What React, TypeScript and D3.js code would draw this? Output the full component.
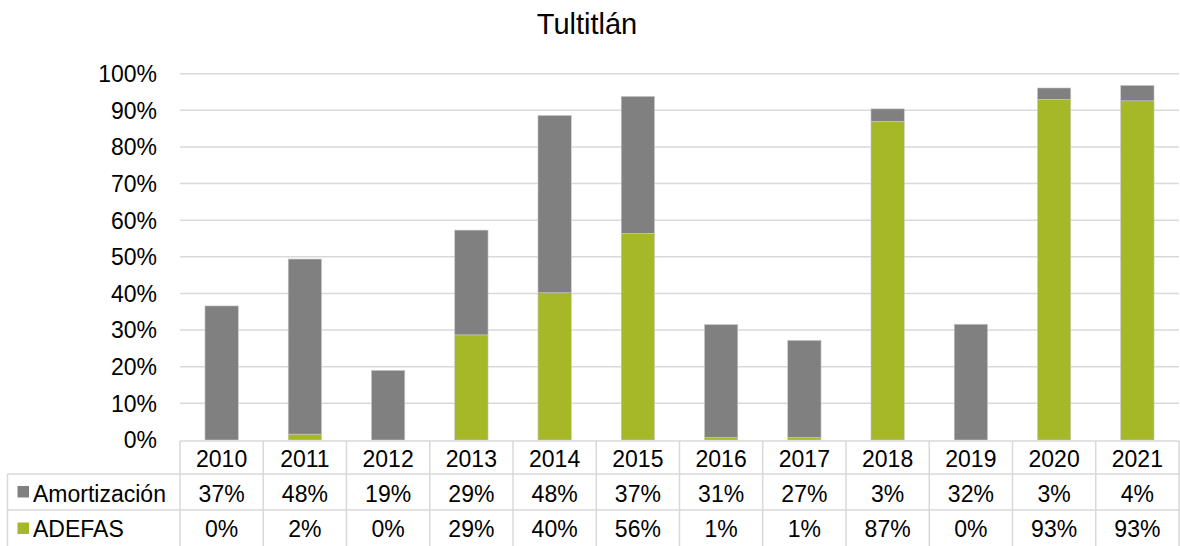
import React from "react";
import * as d3 from "d3";

const years = ["2010","2011","2012","2013","2014","2015","2016","2017","2018","2019","2020","2021"];
const amortizacion = [36.6, 47.8, 19.0, 28.6, 48.4, 37.4, 30.8, 26.5, 3.4, 31.6, 3.1, 4.2];
const adefas = [0, 1.6, 0, 28.7, 40.2, 56.4, 0.7, 0.7, 87.0, 0, 93.0, 92.6];
const yTicks = [0, 10, 20, 30, 40, 50, 60, 70, 80, 90, 100];
const seriesNames = ["Amortización", "ADEFAS"];

const W = 1180, H = 546;
const left = 180, right = 1179, top = 73.7, bottom = 440;
const grey = "#808080", green = "#A6B727", gridC = "#d9d9d9";
const font = "Liberation Sans, Arial, sans-serif";

export default function App() {
  const x = d3.scaleBand().domain(years).range([left, right]).paddingInner(0.6).paddingOuter(0.3);
  const y = d3.scaleLinear().domain([0, 100]).range([bottom, top]);
  const xCol = d3.scaleBand().domain(years).range([left, right]);
  const stack = d3.stack<any>().keys(["adefas", "amort"])(
    years.map((yr, i) => ({ year: yr, adefas: adefas[i], amort: amortizacion[i] }))
  );
  const colors: Record<string, string> = { adefas: green, amort: grey };
  const fmt = (v: number) => `${Math.round(v)}%`;
  const rowY = [441, 474, 510, 547];
  const fs = 23;
  return (
    <svg width={W} height={H} style={{ position: "absolute", left: 0, top: 0, display: "block" }} fontFamily={font}>
      <rect width={W} height={H} fill="#fff" />
      <text x={587} y={34} fontSize={29} textAnchor="middle" fill="#000">Tultitlán</text>
      {yTicks.map(t => (
        <g key={t}>
          {t > 0 && <line x1={left} x2={right} y1={y(t)} y2={y(t)} stroke={gridC} strokeWidth={1.5} />}
          <text x={157} y={y(t)} dy="0.36em" fontSize={fs} textAnchor="end" fill="#000">{t}%</text>
        </g>
      ))}
      {stack.map(s => s.map((d, i) => (
        d[1] - d[0] > 0 ? (
          <rect key={s.key + i} x={x(years[i])!} width={x.bandwidth()} y={y(d[1])} height={y(d[0]) - y(d[1])}
            fill={colors[s.key]} stroke="#c8c8c8" strokeWidth={0.6} />
        ) : null
      )))}
      <g stroke={gridC} strokeWidth={1.5} fill="none">
        <line x1={left} x2={right} y1={rowY[0]} y2={rowY[0]} />
        <line x1={7.5} x2={right} y1={rowY[1]} y2={rowY[1]} />
        <line x1={7.5} x2={right} y1={rowY[2]} y2={rowY[2]} />
        <line x1={7.5} x2={right} y1={rowY[3]} y2={rowY[3]} />
        <line x1={7.5} x2={7.5} y1={rowY[1]} y2={rowY[3]} />
        {years.map(yr => (
          <line key={yr} x1={xCol(yr)!} x2={xCol(yr)!} y1={rowY[0]} y2={rowY[3]} />
        ))}
        <line x1={right} x2={right} y1={rowY[0]} y2={rowY[3]} />
      </g>
      {years.map((yr, i) => (
        <g key={yr} fontSize={fs} textAnchor="middle" fill="#000">
          <text x={xCol(yr)! + xCol.bandwidth() / 2} y={467}>{yr}</text>
          <text x={xCol(yr)! + xCol.bandwidth() / 2} y={502}>{fmt(amortizacion[i])}</text>
          <text x={xCol(yr)! + xCol.bandwidth() / 2} y={537}>{fmt(adefas[i])}</text>
        </g>
      ))}
      <rect x={17.5} y={486} width={11.5} height={11.5} fill={grey} />
      <text x={33} y={502} fontSize={fs} fill="#000">{seriesNames[0]}</text>
      <rect x={17.5} y={522.5} width={11.5} height={11.5} fill={green} />
      <text x={33} y={537} fontSize={fs} fill="#000">{seriesNames[1]}</text>
    </svg>
  );
}
